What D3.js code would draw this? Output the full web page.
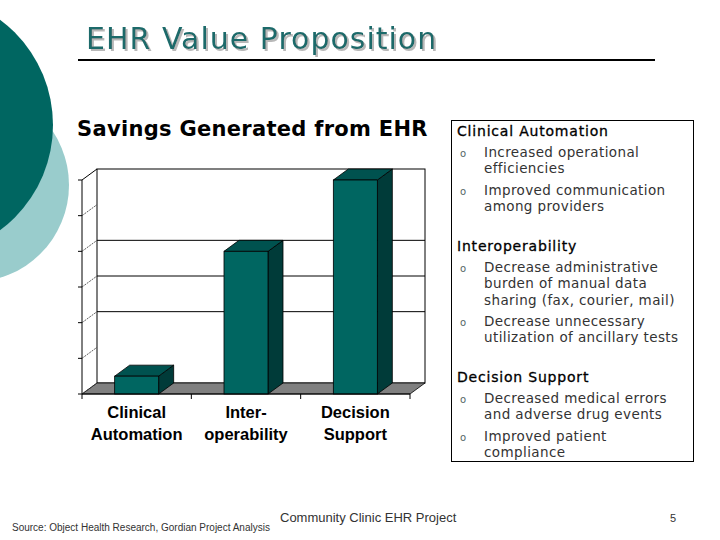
<!DOCTYPE html>
<html>
<head>
<meta charset="utf-8">
<script src="https://cdn.jsdelivr.net/npm/d3@7/dist/d3.min.js"></script>
<style>
  html, body { margin: 0; padding: 0; background: #fff; }
  svg { display: block; }
</style>
</head>
<body>
<svg id="slide" width="720" height="540"></svg>
<script>
"use strict";

// chart data
var categories = ["Clinical Automation", "Interoperability", "Decision Support"];
var catLabels = [["Clinical", "Automation"], ["Inter-", "operability"], ["Decision", "Support"]];
var savings = [0.5, 4, 6];
var yTicks = [0, 1, 2, 3, 4, 5, 6];
var gridValues = [2, 3, 4];

// text panel
var headings = ["Clinical Automation", "Interoperability", "Decision Support"];
var bullets = [
	[["Increased operational", "efficiencies"], ["Improved communication", "among providers"]],
	[["Decrease administrative", "burden of manual data", "sharing (fax, courier, mail)"], ["Decrease unnecessary", "utilization of ancillary tests"]],
	[["Decreased medical errors", "and adverse drug events"], ["Improved patient", "compliance"]]
];

var svg = d3.select("#slide");

// title shadow filter
var defs = svg.append("defs");
defs.append("filter").attr("id", "shadow")
	.attr("x", "-5%").attr("y", "-20%").attr("width", "110%").attr("height", "140%")
	.append("feDropShadow")
	.attr("dx", 2).attr("dy", 2).attr("stdDeviation", 0.3)
	.attr("flood-color", "#b8b8b8").attr("flood-opacity", 1);

// background circles
svg.append("circle").attr("cx", -28).attr("cy", 185).attr("r", 97).style("fill", "#99cccc");
svg.append("circle").attr("cx", -78).attr("cy", 125).attr("r", 131).style("fill", "#006661");

// title
svg.append("text").attr("x", 86).attr("y", 49)
	.attr("filter", "url(#shadow)")
	.style("font-family", "DejaVu Sans").style("font-size", "30px").style("letter-spacing", "1px")
	.style("fill", "#1e6b6b")
	.text("EHR Value Proposition");
svg.append("line").attr("x1", 78).attr("x2", 655).attr("y1", 60).attr("y2", 60)
	.style("stroke", "#000").style("stroke-width", 2);

svg.append("text").attr("x", 77).attr("y", 136)
	.style("font-family", "DejaVu Sans").style("font-weight", "bold").style("font-size", "21px")
	.style("letter-spacing", "0.3px").style("fill", "#000")
	.text("Savings Generated from EHR");

// 3d column chart
var dx = 15, dy = 11;
var x = d3.scaleBand().domain(categories).range([82, 410]);
var y = d3.scaleLinear().domain([0, 6]).range([394, 180]);
var barW = 44;
var chart = svg.append("g");

// back wall
chart.append("rect")
	.attr("x", x.range()[0] + dx).attr("y", y(6) - dy)
	.attr("width", x.range()[1] - x.range()[0]).attr("height", y(0) - y(6))
	.style("fill", "#fff").style("stroke", "#000").style("stroke-width", 1);

chart.selectAll(".grid").data(gridValues).enter().append("line")
	.attr("class", "grid")
	.attr("x1", x.range()[0] + dx).attr("x2", x.range()[1] + dx)
	.attr("y1", function(d){ return y(d) - dy; }).attr("y2", function(d){ return y(d) - dy; })
	.style("stroke", "#000").style("stroke-width", 1);

// floor
var x0 = x.range()[0], x1 = x.range()[1], yb = y(0);
chart.append("polygon")
	.attr("points", [[x0, yb], [x1, yb], [x1 + dx, yb - dy], [x0 + dx, yb - dy]].join(" "))
	.style("fill", "#808080").style("stroke", "#000").style("stroke-width", 0.8);

// bars
var bars = chart.selectAll(".bar").data(savings).enter().append("g").attr("class", "bar");
function bx(i) { return x(categories[i]) + (x.bandwidth() - barW) / 2; }
bars.append("polygon")
	.attr("points", function(d, i){
		var r = bx(i) + barW, t = y(d);
		return [[r, t], [r + dx, t - dy], [r + dx, yb - dy], [r, yb]].join(" ");
	})
	.style("fill", "#003b39").style("stroke", "#000").style("stroke-width", 0.8);
bars.append("polygon")
	.attr("points", function(d, i){
		var l = bx(i), r = l + barW, t = y(d);
		return [[l, t], [l + dx, t - dy], [r + dx, t - dy], [r, t]].join(" ");
	})
	.style("fill", "#00524f").style("stroke", "#000").style("stroke-width", 0.8);
bars.append("rect")
	.attr("x", function(d, i){ return bx(i); })
	.attr("y", function(d){ return y(d); })
	.attr("width", barW)
	.attr("height", function(d){ return yb - y(d); })
	.style("fill", "#006661").style("stroke", "#000").style("stroke-width", 0.8);

// left axis
chart.append("line").attr("x1", x0).attr("x2", x0).attr("y1", y(6)).attr("y2", yb)
	.style("stroke", "#000").style("stroke-width", 1);
chart.append("line").attr("x1", x0).attr("x2", x0 + dx).attr("y1", y(6)).attr("y2", y(6) - dy)
	.style("stroke", "#000").style("stroke-width", 1);
chart.selectAll(".ytick").data(yTicks).enter().append("line")
	.attr("class", "ytick")
	.attr("x1", x0 - 4).attr("x2", x0)
	.attr("y1", function(d){ return y(d); }).attr("y2", function(d){ return y(d); })
	.style("stroke", "#000").style("stroke-width", 1);
chart.selectAll(".ydiag").data(yTicks.slice(0, -1)).enter().append("line")
	.attr("class", "ydiag")
	.attr("x1", x0).attr("x2", x0 + dx)
	.attr("y1", function(d){ return y(d); }).attr("y2", function(d){ return y(d) - dy; })
	.style("stroke", "#333").style("stroke-width", 0.8).style("stroke-dasharray", "2,1");

// bottom edge with ticks
chart.append("line").attr("x1", x0).attr("x2", x1).attr("y1", yb).attr("y2", yb)
	.style("stroke", "#000").style("stroke-width", 1);
chart.selectAll(".xtick").data([0, 1, 2, 3]).enter().append("line")
	.attr("class", "xtick")
	.attr("x1", function(d){ return x0 + d * x.step(); }).attr("x2", function(d){ return x0 + d * x.step(); })
	.attr("y1", yb).attr("y2", yb + 5)
	.style("stroke", "#000").style("stroke-width", 1);

// category labels
chart.selectAll(".xlabel").data(catLabels).enter().append("text")
	.attr("class", "xlabel")
	.attr("text-anchor", "middle")
	.style("font-family", "Liberation Sans").style("font-weight", "bold").style("font-size", "16.5px")
	.each(function(d, i){
		var cx = x(categories[i]) + x.bandwidth() / 2;
		d3.select(this).selectAll("tspan").data(d).enter().append("tspan")
			.attr("x", cx).attr("y", function(t, j){ return 418 + j * 22; })
			.text(function(t){ return t; });
	});

// text panel
svg.append("rect").attr("x", 451.5).attr("y", 120.5).attr("width", 242).attr("height", 341)
	.style("fill", "#fff").style("stroke", "#000").style("stroke-width", 1);

var headY = [136, 251, 382];
var lineH = 16.3;
var panel = svg.append("g").style("font-family", "DejaVu Sans").style("font-size", "13.5px")
	.style("letter-spacing", "0.4px");
headings.forEach(function(h, i){
	panel.append("text").attr("x", 457).attr("y", headY[i])
		.style("fill", "#000").style("stroke", "#000").style("stroke-width", 0.3)
		.style("font-size", "14px").style("letter-spacing", "0.8px").text(h);
	var yy = headY[i] + 21;
	bullets[i].forEach(function(lines){
		panel.append("text").attr("x", 460).attr("y", yy).style("font-size", "10px")
			.style("letter-spacing", "0").style("fill", "#556666").text("o");
		lines.forEach(function(l, j){
			panel.append("text").attr("x", 484).attr("y", yy + j * lineH).style("fill", "#333").text(l);
		});
		yy += lines.length * lineH + 5;
	});
});

// footer
svg.append("text").attr("x", 280).attr("y", 522)
	.style("font-family", "Liberation Sans").style("font-size", "13px").style("fill", "#333")
	.text("Community Clinic EHR Project");
svg.append("text").attr("x", 12).attr("y", 531)
	.style("font-family", "Liberation Sans").style("font-size", "10px").style("fill", "#333")
	.text("Source: Object Health Research, Gordian Project Analysis");
svg.append("text").attr("x", 670).attr("y", 522)
	.style("font-family", "Liberation Sans").style("font-size", "11px").style("fill", "#333")
	.text("5");
</script>
</body>
</html>
